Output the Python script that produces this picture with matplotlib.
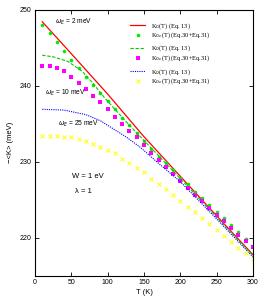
import matplotlib
matplotlib.use("Agg")
import matplotlib.pyplot as plt

# temperature grid of the symbols
T_pts = [10, 20, 30, 40, 50, 60, 70, 80, 90, 100, 110, 120, 130, 140, 150,
         160, 170, 180, 190, 200, 210, 220, 230, 240, 250, 260, 270, 280, 290, 300]

# K0c(T) symbols for the three omega_E values
k0c_2 = [248.0, 246.9, 245.7, 244.6, 243.4, 242.3, 241.1, 240.1, 239.0, 238.0,
         236.9, 235.8, 234.8, 233.8, 232.7, 231.7, 230.7, 229.8, 228.9, 227.9,
         227.1, 226.1, 225.2, 224.3, 223.4, 222.6, 221.7, 220.8, 219.8, 219.0]
k0c_10 = [242.6, 242.6, 242.3, 241.9, 241.2, 240.4, 239.6, 238.7, 237.8, 236.9,
          235.9, 235.0, 234.1, 233.3, 232.2, 231.1, 230.2, 229.3, 228.4, 227.5,
          226.5, 225.6, 224.8, 223.9, 223.0, 222.2, 221.3, 220.4, 219.6, 218.8]
k0c_25 = [233.4, 233.4, 233.4, 233.3, 233.2, 233.0, 232.7, 232.4, 232.0, 231.5,
          231.1, 230.4, 229.9, 229.2, 228.6, 227.8, 227.1, 226.4, 225.6, 224.9,
          224.1, 223.4, 222.6, 221.8, 221.0, 220.3, 219.5, 218.7, 218.0, 217.2]

# K0(T) curves
T_2 = [10, 50, 100, 150, 200, 250, 300]
k0_2 = [248.4, 244.2, 238.9, 233.3, 228.1, 222.9, 217.8]
T_10 = [10, 25, 45, 65, 80, 95, 110, 130, 150, 200, 250, 300]
k0_10 = [244.0, 243.8, 243.2, 241.9, 240.3, 238.5, 236.9, 234.8, 232.8, 227.8, 222.7, 217.7]
T_25 = [10, 40, 70, 90, 105, 125, 145, 170, 200, 250, 300]
k0_25 = [236.9, 236.8, 236.2, 235.4, 234.5, 233.3, 231.9, 229.8, 227.4, 222.5, 217.5]

plt.rcParams['font.family'] = ['Liberation Sans', 'DejaVu Sans']

fig = plt.figure(figsize=(2.66, 3.0), dpi=100)
ax = fig.add_axes([0.1316, 0.08, 0.951 - 0.1316, 0.888])

l1, = ax.plot(T_2, k0_2, color='#ff0000', lw=0.9, ls='-')
m1, = ax.plot(T_pts, k0c_2, ls='none', marker='o', ms=2.6, color='#00ee00', mew=0)
l2, = ax.plot(T_10, k0_10, color='#00cc00', lw=0.8, ls=(0, (3, 1.5)))
m2, = ax.plot(T_pts, k0c_10, ls='none', marker='s', ms=2.5, color='#ff00ff', mew=0)
l3, = ax.plot(T_25, k0_25, color='#0000ff', lw=0.8, ls=(0, (1, 1)))
m3, = ax.plot(T_pts, k0c_25, ls='none', marker='x', ms=2.6, color='#ffff00', mew=0.7)

ax.set_xlim(0, 300)
ax.set_ylim(215, 250)
ax.set_xticks([0, 50, 100, 150, 200, 250, 300])
ax.set_yticks([220, 230, 240, 250])
ax.tick_params(direction='in', top=True, right=True, length=3, width=0.6,
               labelsize=5, pad=2.5)
for s in ax.spines.values():
    s.set_linewidth(0.8)

ax.set_xlabel('T (K)', fontsize=5.5, labelpad=2)
ax.set_ylabel('\u2212<K> (meV)', fontsize=5.5, labelpad=4)

tfs = 4.8
ax.text(27, 248.4, r'$\omega_E$ = 2 meV', fontsize=tfs, va='center')
ax.text(14, 239.1, r'$\omega_E$ = 10 meV', fontsize=tfs, va='center')
ax.text(32, 235.0, r'$\omega_E$ = 25 meV', fontsize=tfs, va='center')
ax.text(51, 228.1, 'W = 1 eV', fontsize=5.5, va='center')
ax.text(55, 226.1, '\u03bb = 1', fontsize=5.5, va='center')

lab0 = r'K$_0$(T) (Eq. 13)'
lab1 = r'K$_{0c}$(T) (Eq.30+Eq.31)'
lprops = dict(family='Liberation Serif', size=4.6)
groups = [(l1, m1, 0.958), (l2, m2, 0.872), (l3, m3, 0.785)]
for i, (ln, mk, yy) in enumerate(groups):
    leg = ax.legend([ln, mk], [lab0, lab1], loc='upper left',
                    bbox_to_anchor=(0.436, yy), frameon=False, prop=lprops,
                    handlelength=2.35, handletextpad=1.0, labelspacing=0.0,
                    borderpad=0, borderaxespad=0)
    if i < len(groups) - 1:
        ax.add_artist(leg)

fig.savefig('out.png', dpi=100)
